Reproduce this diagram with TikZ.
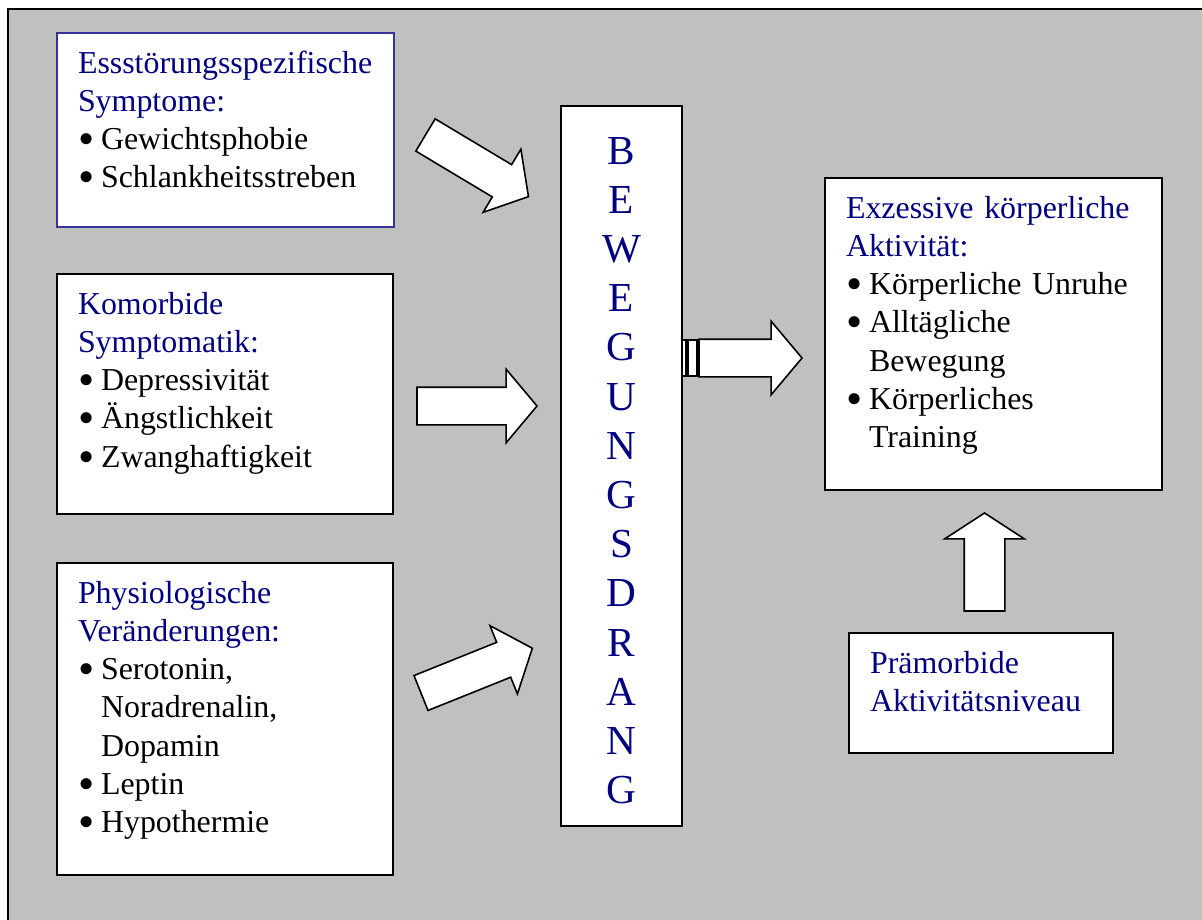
\documentclass[tikz,border=0pt]{standalone}
\usepackage{fontspec}
\setmainfont{Liberation Serif}
\usepackage{xcolor}
\usepackage{graphicx}
\usetikzlibrary{shapes.arrows}
\definecolor{grau}{HTML}{C0C0C0}
\definecolor{titel}{HTML}{000080}
\definecolor{randblau}{HTML}{333399}
\newcommand{\px}{0.376pt}
\newcommand{\pkt}{\makebox[8.65pt][l]{\smash{\raisebox{-1.9pt}{\scalebox{1.45}{\textbullet}}}}}
\newcommand{\ein}{\hspace*{8.65pt}}

\begin{document}
\begin{tikzpicture}[
  x=0.376pt, y=-0.376pt,
  kasten/.style={draw=black, line width=0.6pt, fill=white, anchor=north west,
    inner xsep=21*\px, inner ysep=0pt, outer sep=0pt, align=left,
    text height=40*\px, font=\fontsize{12}{14.4}\selectfont},
  drang/.style={draw=black, line width=0.6pt, fill=white, anchor=north west,
    inner sep=0pt, outer sep=0pt, align=center, text width=121*\px,
    text height=58*\px, text depth=662*\px, text=titel,
    font=\fontsize{15.5}{18.5}\selectfont},
  pfeil/.style={single arrow, draw=black, line width=0.6pt, fill=white,
    anchor=tail, inner xsep=0pt, inner ysep=18*\px, outer sep=0pt,
    single arrow head extend=18*\px, single arrow tip angle=100,
    minimum height=120*\px},
]

% --- Hintergrund ---
\useasboundingbox (0,0) rectangle (1202,919);
\clip (0,0) rectangle (1202,919);
\fill[white] (0,0) rectangle (1202,919);
\draw[line width=0.8pt, fill=grau] (8,9) rectangle (1215,935);

% --- Einflussfaktoren (links) ---
\node[kasten, draw=randblau, text width=295*\px, text depth=154*\px] (ess) at (57,33)
  {\textcolor{titel}{Essstörungsspezifische\\Symptome:}\\
   \pkt Gewichtsphobie\\
   \pkt Schlankheitsstreben};
\node[kasten, text width=294*\px, text depth=200*\px] (komo) at (57,274)
  {\textcolor{titel}{Komorbide\\Symptomatik:}\\
   \pkt Depressivität\\
   \pkt Ängstlichkeit\\
   \pkt Zwanghaftigkeit};
\node[kasten, text width=294*\px, text depth=272*\px] (phys) at (57,563)
  {\textcolor{titel}{Physiologische\\Veränderungen:}\\
   \pkt Serotonin,\\
   \ein Noradrenalin,\\
   \ein Dopamin\\
   \pkt Leptin\\
   \pkt Hypothermie};

% --- Bewegungsdrang (Mitte) ---
\node[drang] (drang) at (561,106)
  {B\\E\\W\\E\\G\\U\\N\\G\\S\\D\\R\\A\\N\\G};

% --- Rechte Seite ---
\node[kasten, text width=295*\px, text depth=272*\px] (akt) at (825,178)
  {\textcolor{titel}{Exzessive körperliche\\Aktivität:}\\
   \pkt Körperliche Unruhe\\
   \pkt Alltägliche\\
   \ein Bewegung\\
   \pkt Körperliches\\
   \ein Training};
\node[kasten, text width=222*\px, text depth=80*\px, text=titel] (praem) at (849,633)
  {Prämorbide\\Aktivitätsniveau};

% --- Blockpfeile ---
\node[pfeil, rotate=-30.9] (p1) at (425.5,135) {};
\node[pfeil] (p2) at (417,406) {};
\node[pfeil, rotate=21.9] (p3) at (421,693) {};
\draw[line width=0.6pt, fill=white] (682,340) rectangle (686,376);
\draw[line width=0.6pt, fill=white] (688,340) rectangle (697,376);
\node[pfeil, minimum height=103*\px] (p4) at (699,358) {};
\node[pfeil, rotate=90, inner ysep=19.5*\px, single arrow head extend=19.5*\px,
  single arrow tip angle=114, minimum height=98*\px] (p5) at (984.5,611) {};

\end{tikzpicture}
\end{document}
